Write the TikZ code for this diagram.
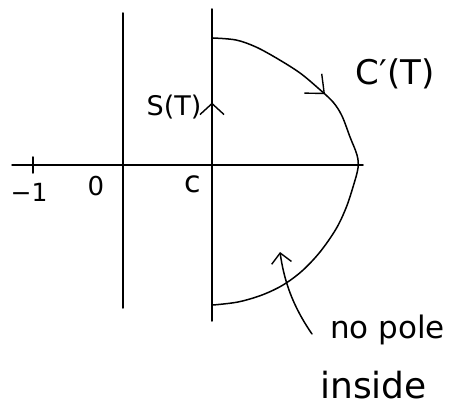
\documentclass[tikz,border=0pt]{standalone}
\usepackage{fontspec}
\setmainfont{DejaVu Sans}
\usetikzlibrary{arrows.meta,decorations.markings}
\begin{document}
\begin{tikzpicture}[x={(1pt,0)},y={(0,-1pt)},
  ink/.style={line width=1.5pt,line cap=round,line join=round},
  lbl/.style={inner sep=0pt,text=black}]
\useasboundingbox (0,0) rectangle (449,406);
% axes
\coordinate (hl) at (12,165);
\coordinate (hr) at (363,165);
\coordinate (v1t) at (123,13);
\coordinate (v1b) at (123,308);
\coordinate (v2t) at (212,9);
\coordinate (v2b) at (212,321);
\coordinate (t1) at (33,157);
\coordinate (t2) at (33,173);
\draw[ink] (hl) -- (hr);
\draw[ink] (v1t) -- (v1b);
\draw[ink,postaction={decorate},decoration={markings,
  mark=at position 0.70 with {\arrow[line width=1.4pt]{Straight Barb[length=11pt,width=24pt]}}}] (v2b) -- (v2t);
\draw[ink] (t1) -- (t2);
% contour
\draw[ink,postaction={decorate},decoration={markings,
  mark=at position 0.30 with {\arrow[line width=1.4pt]{Straight Barb[length=15pt,width=26pt]}}}]
  plot[smooth,tension=0.55] coordinates {(213,38) (236,40) (256,47) (278,59) (300,73) (318,88)
  (333,102) (342,116) (350,137) (357,155) (358,168) (353,187) (346,208) (336,229)
  (320,252) (302,271) (283,285) (262,295) (238,302) (213,305)};
% labels
\node[lbl,font=\fontsize{25}{27}\selectfont] (m1) at (29,192) {−1};
\node[lbl,font=\fontsize{26}{28}\selectfont] (zero) at (96,186) {0};
\node[lbl,font=\fontsize{30}{32}\selectfont] (cc) at (193,184) {c};
\node[lbl,font=\fontsize{27}{29}\selectfont] (st) at (174,107) {S(T)};
\node[lbl,font=\fontsize{34}{36}\selectfont] (cp) at (395,74) {C\char"2032(T)};
\node[lbl,anchor=base west,font=\fontsize{31}{34}\selectfont] (np) at (330,338) {no pole};
\node[lbl,anchor=base west,font=\fontsize{36}{38}\selectfont] (ins) at (320,398) {inside};
% pointer
\coordinate (ps) at (312,334);
\coordinate (pe) at (280,252);
\draw[ink,-{Straight Barb[length=10pt,width=20pt,line width=1.4pt]}] (ps) .. controls (292,305) and (284,280) .. (pe);
\end{tikzpicture}
\end{document}
